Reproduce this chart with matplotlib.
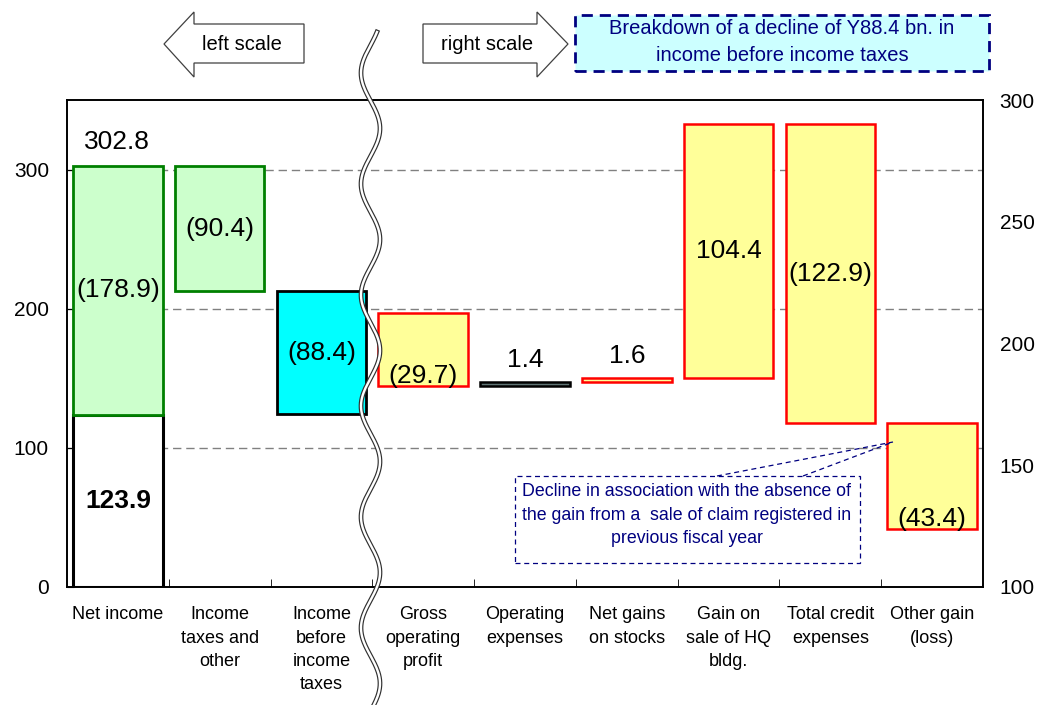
import numpy as np
import matplotlib.pyplot as plt
from matplotlib.patches import Polygon, Rectangle
from matplotlib.lines import Line2D

plt.rcParams['font.family'] = ['Liberation Sans', 'DejaVu Sans']

# data (billions of yen)
categories = ['Net income', 'Income\ntaxes and\nother', 'Income\nbefore\nincome\ntaxes',
              'Gross\noperating\nprofit', 'Operating\nexpenses', 'Net gains\non stocks',
              'Gain on\nsale of HQ\nbldg.', 'Total credit\nexpenses', 'Other gain\n(loss)']
net_income_prev = 302.8
net_income_now = 123.9
left_changes = [-90.4, -88.4]          # income taxes and other, income before income taxes
right_changes = [-29.7, 1.4, 1.6, 104.4, -122.9, -43.4]

W, H = 1039, 705


def fx(x):
    return x / W


def fy(y):
    return 1 - y / H


def fmt(v):
    return '(%.1f)' % abs(v) if v < 0 else '%.1f' % v


fig = plt.figure(figsize=(W / 100, H / 100), dpi=100)
ax = fig.add_axes([fx(67), fy(587), fx(983) - fx(67), fy(100) - fy(587)])
ax2 = ax.twinx()
ax.set_xlim(-0.5, 8.5)
ax.set_ylim(0, 350)
ax2.set_ylim(100, 300)

bw = 0.88
val_fs = 19

# grid (left scale)
for g in [100, 200, 300]:
    ax.axhline(g, color='#808080', lw=1, ls=(0, (6, 3.5)), zorder=0)

# ---- left scale bars
ax.bar(0, net_income_now, width=bw, color='white', edgecolor='black', lw=2.2, zorder=2)
ax.bar(0, net_income_prev - net_income_now, bottom=net_income_now, width=bw,
       color='#CCFFCC', edgecolor='#008000', lw=2, zorder=3)
ax.text(0, net_income_now / 2, '%.1f' % net_income_now, ha='center', va='center',
        fontsize=val_fs, fontweight='bold')
ax.text(0, (net_income_prev + net_income_now) / 2, fmt(net_income_now - net_income_prev),
        ha='center', va='center', fontsize=val_fs)
ax.annotate('%.1f' % net_income_prev, (0, net_income_prev), xytext=(-1, 17),
            textcoords='offset points', ha='center', va='center', fontsize=val_fs)

left_levels = net_income_prev + np.concatenate([[0], np.cumsum(left_changes)])
left_colors = [('#CCFFCC', '#008000'), ('#00FFFF', 'black')]
for i, ch in enumerate(left_changes):
    lo = min(left_levels[i], left_levels[i + 1])
    fc, ec = left_colors[i]
    ax.bar(i + 1, abs(ch), bottom=lo, width=bw, color=fc, edgecolor=ec, lw=2, zorder=3)
    ax.text(i + 1, lo + abs(ch) / 2, fmt(ch), ha='center', va='center', fontsize=val_fs)

# ---- right scale bars (breakdown of income before income taxes)
right_start = left_levels[1]
right_levels = right_start + np.concatenate([[0], np.cumsum(right_changes)])
for i, ch in enumerate(right_changes):
    xi = i + 3
    lo = min(right_levels[i], right_levels[i + 1])
    hi = max(right_levels[i], right_levels[i + 1])
    if i == 1:
        fc, ec = '#5f7373', 'black'
    else:
        fc, ec = '#FFFF99', '#FF0000'
    ax2.bar(xi, hi - lo, bottom=lo, width=bw, color=fc, edgecolor=ec, lw=1.8, zorder=3)
    if abs(ch) < 5:
        ax2.annotate(fmt(ch), (xi, hi), xytext=(0, 16), textcoords='offset points',
                     ha='center', va='center', fontsize=val_fs)
    elif i in (0, 5):
        ax2.annotate(fmt(ch), (xi, lo), xytext=(0, 7), textcoords='offset points',
                     ha='center', va='center', fontsize=val_fs)
    else:
        ax2.text(xi, (lo + hi) / 2, fmt(ch), ha='center', va='center', fontsize=val_fs)

# ---- axes styling
ax.set_yticks([0, 100, 200, 300])
ax.tick_params(axis='y', direction='in', length=5, labelsize=15, pad=13)
ax.set_xticks(np.arange(len(categories)))
ax.set_xticklabels(categories, fontsize=13, linespacing=1.48)
ax.tick_params(axis='x', length=0, pad=14)
ax.set_xticks(np.arange(0.5, 8.5, 1), minor=True)
ax.tick_params(axis='x', which='minor', direction='in', length=6)
ax2.set_yticks([100, 150, 200, 250, 300])
ax2.tick_params(axis='y', length=0, labelsize=15, pad=12)
for a in (ax, ax2):
    for s in a.spines.values():
        s.set_linewidth(1.2)

# ---- wavy break line
ys = np.linspace(32, 710, 500)
xs = 370.5 - 9.5 * np.cos(2 * np.pi * (ys - 73) / 111)
fig.add_artist(Line2D(fx(xs), fy(ys), color='#303030', lw=3.4, transform=fig.transFigure, zorder=10))
fig.add_artist(Line2D(fx(xs), fy(ys), color='white', lw=1.7, transform=fig.transFigure, zorder=11))

# ---- scale arrows
left_arrow = [(164, 44), (194, 12), (194, 24), (304, 24), (304, 63), (194, 63), (194, 77)]
right_arrow = [(423, 24), (537, 24), (537, 12), (568, 44), (537, 77), (537, 63), (423, 63)]
for pts in (left_arrow, right_arrow):
    fig.add_artist(Polygon([(fx(x), fy(y)) for x, y in pts], closed=True, facecolor='white',
                           edgecolor='#404040', lw=0.9, transform=fig.transFigure))
fig.text(fx(242), fy(44), 'left scale', ha='center', va='center', fontsize=14.5)
fig.text(fx(487), fy(44), 'right scale', ha='center', va='center', fontsize=14.5)

# ---- header box
fig.add_artist(Rectangle((fx(575), fy(71)), fx(989) - fx(575), fy(15) - fy(71),
                         facecolor='#CCFFFF', edgecolor='#000080', lw=2, ls=(0, (4, 2.5)),
                         transform=fig.transFigure))
fig.text(fx(782), fy(42), 'Breakdown of a decline of Y88.4 bn. in\nincome before income taxes',
         ha='center', va='center', fontsize=14.5, color='#000080', linespacing=1.47)

# ---- note box
fig.add_artist(Rectangle((fx(515), fy(563)), fx(860) - fx(515), fy(476) - fy(563),
                         facecolor='white', edgecolor='#000080', lw=0.9, ls=(0, (4, 3)),
                         transform=fig.transFigure, zorder=12))
fig.text(fx(687), fy(515),
         'Decline in association with the absence of\nthe gain from a  sale of claim registered in\nprevious fiscal year',
         ha='center', va='center', fontsize=12.8, color='#000080', linespacing=1.48, zorder=13)
for sx in (717, 803):
    fig.add_artist(Line2D([fx(sx), fx(893)], [fy(476), fy(442)], color='#000080', lw=0.9,
                          ls=(0, (4, 3)), transform=fig.transFigure, zorder=12))

fig.savefig('out.png', dpi=100)
